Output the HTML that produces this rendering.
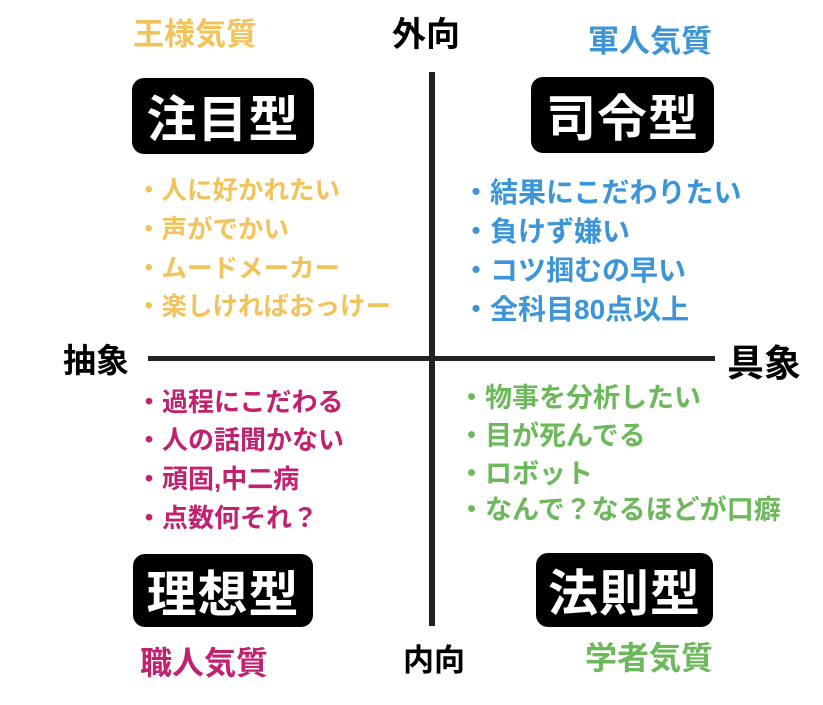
<!DOCTYPE html>
<html><head><meta charset="utf-8"><style>
body{margin:0;width:823px;height:705px;background:#fff;position:relative;overflow:hidden;font-family:"Liberation Sans","Noto Sans CJK JP",sans-serif;font-weight:bold}
.a{position:absolute;white-space:nowrap;line-height:1}
.box{position:absolute;background:#000;color:#fff;border-radius:12px;font-size:50px;display:flex;align-items:center;justify-content:center;letter-spacing:1px}
.y{color:#f2c35a}.b{color:#3d95d8}.p{color:#c0226f}.g{color:#6cb85a}
.y.l{font-size:25.5px}.b.l{font-size:28px}.p.l{font-size:26px}.g.l{font-size:27px}
</style></head><body>
<div class="a" style="left:429px;top:72px;width:6px;height:554px;background:#222"></div>
<div class="a" style="left:148px;top:356px;width:567px;height:5px;background:#222"></div>

<div class="a y" style="left:133px;top:19px;font-size:31px">王様気質</div>
<div class="a" style="left:392px;top:18px;font-size:34px">外向</div>
<div class="a b" style="left:588px;top:26px;font-size:31px">軍人気質</div>

<div class="box" style="left:132px;top:78px;width:182px;height:76px">注目型</div>
<div class="box" style="left:531px;top:77px;width:183px;height:76px">司令型</div>
<div class="box" style="left:133px;top:554px;width:180px;height:73px">理想型</div>
<div class="box" style="left:536px;top:553px;width:177px;height:74px">法則型</div>

<div class="a y l" style="left:136px;top:179px">・人に好かれたい</div>
<div class="a y l" style="left:136px;top:218px">・声がでかい</div>
<div class="a y l" style="left:136px;top:257px">・ムードメーカー</div>
<div class="a y l" style="left:136px;top:295px">・楽しければおっけー</div>

<div class="a b l" style="left:462px;top:179px">・結果にこだわりたい</div>
<div class="a b l" style="left:462px;top:218px">・負けず嫌い</div>
<div class="a b l" style="left:462px;top:257px">・コツ掴むの早い</div>
<div class="a b l" style="left:462px;top:296px">・全科目80点以上</div>

<div class="a" style="left:63px;top:344px;font-size:33px">抽象</div>
<div class="a" style="left:727px;top:345px;font-size:37px">具象</div>

<div class="a p l" style="left:136px;top:389px">・過程にこだわる</div>
<div class="a p l" style="left:136px;top:427px">・人の話聞かない</div>
<div class="a p l" style="left:136px;top:466px">・頑固,中二病</div>
<div class="a p l" style="left:136px;top:505px">・点数何それ？</div>

<div class="a g l" style="left:458px;top:385px">・物事を分析したい</div>
<div class="a g l" style="left:458px;top:423px">・目が死んでる</div>
<div class="a g l" style="left:458px;top:461px">・ロボット</div>
<div class="a g l" style="left:458px;top:497px">・なんで？なるほどが口癖</div>

<div class="a p" style="left:140px;top:647px;font-size:32px">職人気質</div>
<div class="a" style="left:403px;top:645px;font-size:31px">内向</div>
<div class="a g" style="left:585px;top:642px;font-size:32px">学者気質</div>
</body></html>
